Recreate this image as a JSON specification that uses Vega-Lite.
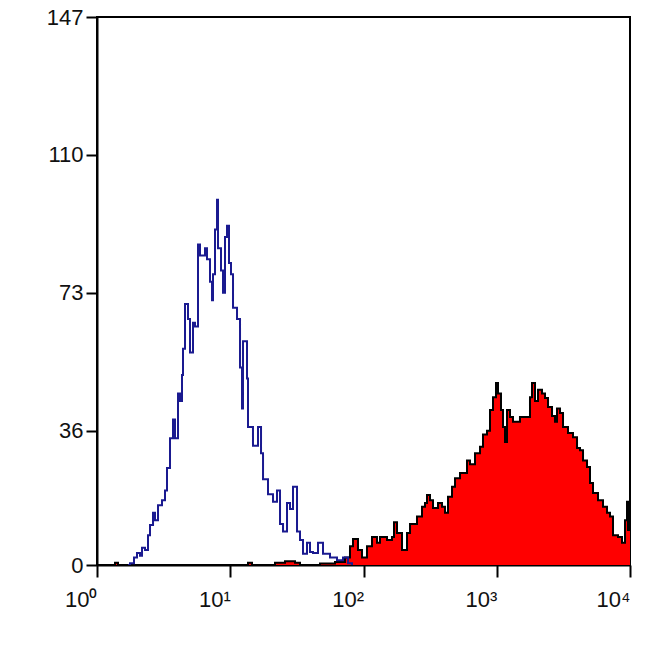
{
  "$schema": "https://vega.github.io/schema/vega-lite/v6.json",
  "width": 533,
  "height": 548,
  "autosize": "none",
  "padding": {"left": 97, "top": 17, "right": 20, "bottom": 85},
  "background": "white",
  "config": {
    "view": {"stroke": "black", "strokeWidth": 2},
    "font": "Liberation Sans",
    "axis": {
      "grid": false,
      "title": null,
      "domainColor": "black",
      "domainWidth": 2,
      "tickColor": "black",
      "tickWidth": 2,
      "labelColor": "#111111",
      "labelFont": "Liberation Sans",
      "labelFontSize": 22
    }
  },
  "datasets": {
    "control": [
      {"x": 1.709, "count": 0}, {"x": 1.769, "count": 0.5}, {"x": 1.895, "count": 2}, {"x": 1.996, "count": 3.2},
      {"x": 2.102, "count": 2.5}, {"x": 2.177, "count": 4.6}, {"x": 2.293, "count": 4}, {"x": 2.414, "count": 8},
      {"x": 2.499, "count": 10.7}, {"x": 2.633, "count": 14}, {"x": 2.725, "count": 12}, {"x": 2.87, "count": 16},
      {"x": 3.075, "count": 17.4}, {"x": 3.238, "count": 20}, {"x": 3.352, "count": 26}, {"x": 3.531, "count": 34},
      {"x": 3.719, "count": 39}, {"x": 3.849, "count": 34}, {"x": 4.055, "count": 46}, {"x": 4.197, "count": 44},
      {"x": 4.344, "count": 51}, {"x": 4.42, "count": 58}, {"x": 4.576, "count": 70}, {"x": 4.819, "count": 66},
      {"x": 4.988, "count": 57}, {"x": 5.253, "count": 65}, {"x": 5.438, "count": 64}, {"x": 5.728, "count": 86},
      {"x": 5.929, "count": 83}, {"x": 6.464, "count": 85}, {"x": 6.692, "count": 82}, {"x": 7.047, "count": 76},
      {"x": 7.295, "count": 71}, {"x": 7.422, "count": 78}, {"x": 7.685, "count": 90}, {"x": 7.955, "count": 98},
      {"x": 8.094, "count": 85}, {"x": 8.523, "count": 79}, {"x": 8.823, "count": 73}, {"x": 9.134, "count": 88},
      {"x": 9.455, "count": 91}, {"x": 9.786, "count": 81}, {"x": 10.13, "count": 78}, {"x": 10.49, "count": 69},
      {"x": 11.24, "count": 66}, {"x": 11.84, "count": 53}, {"x": 12.25, "count": 42}, {"x": 12.46, "count": 60},
      {"x": 13.36, "count": 50}, {"x": 13.59, "count": 37}, {"x": 14.81, "count": 32}, {"x": 16.16, "count": 37},
      {"x": 17.02, "count": 30}, {"x": 17.62, "count": 23}, {"x": 19.2, "count": 19}, {"x": 20.94, "count": 17},
      {"x": 22.43, "count": 20}, {"x": 23.63, "count": 11}, {"x": 24.89, "count": 9}, {"x": 26.67, "count": 16.6},
      {"x": 28.08, "count": 15}, {"x": 29.58, "count": 21}, {"x": 31.7, "count": 9}, {"x": 33.38, "count": 6.7},
      {"x": 35.16, "count": 3}, {"x": 37.67, "count": 6}, {"x": 39.67, "count": 3.5}, {"x": 41.78, "count": 3.2},
      {"x": 45.56, "count": 6}, {"x": 49.67, "count": 3}, {"x": 56.07, "count": 2}, {"x": 63.27, "count": 1.3},
      {"x": 70.2, "count": 2}, {"x": 76.49, "count": 0.5}, {"x": 81.96, "count": 0}
    ],
    "sample": [
      {"x": 1.2, "count": 0}, {"x": 1.365, "count": 0.6}, {"x": 1.438, "count": 0}, {"x": 13.59, "count": 0.6},
      {"x": 14.56, "count": 0}, {"x": 21.67, "count": 0.6}, {"x": 25.76, "count": 1}, {"x": 30.62, "count": 0.6},
      {"x": 33.38, "count": 0}, {"x": 47.16, "count": 0.4}, {"x": 61.12, "count": 0.8}, {"x": 72.64, "count": 2},
      {"x": 79.18, "count": 5}, {"x": 83.4, "count": 7}, {"x": 90.94, "count": 4}, {"x": 97.43, "count": 2},
      {"x": 106.2, "count": 5}, {"x": 115.8, "count": 7.5}, {"x": 126.3, "count": 6}, {"x": 133.0, "count": 7.5},
      {"x": 150.1, "count": 6.7}, {"x": 163.6, "count": 7.5}, {"x": 169.4, "count": 11.5}, {"x": 178.4, "count": 8.6},
      {"x": 194.5, "count": 4}, {"x": 212.1, "count": 8.6}, {"x": 223.4, "count": 11}, {"x": 252.0, "count": 13},
      {"x": 274.8, "count": 15.6}, {"x": 289.4, "count": 16.6}, {"x": 299.6, "count": 18.8}, {"x": 315.6, "count": 17.4},
      {"x": 332.4, "count": 15.3}, {"x": 362.4, "count": 16.6}, {"x": 388.3, "count": 15.6}, {"x": 409.0, "count": 14},
      {"x": 430.8, "count": 18.3}, {"x": 461.6, "count": 21}, {"x": 486.2, "count": 23.3}, {"x": 530.0, "count": 24.7},
      {"x": 567.9, "count": 24.7}, {"x": 598.1, "count": 28}, {"x": 630.0, "count": 27}, {"x": 686.8, "count": 30},
      {"x": 748.9, "count": 31.7}, {"x": 788.5, "count": 35}, {"x": 844.9, "count": 36}, {"x": 890.0, "count": 41.6},
      {"x": 937.4, "count": 45}, {"x": 987.2, "count": 48.8}, {"x": 1022, "count": 46}, {"x": 1076, "count": 41.6},
      {"x": 1114, "count": 37}, {"x": 1153, "count": 33}, {"x": 1194, "count": 41.6}, {"x": 1257, "count": 39.7},
      {"x": 1324, "count": 38.4}, {"x": 1494, "count": 39.7}, {"x": 1687, "count": 39.7}, {"x": 1776, "count": 45},
      {"x": 1839, "count": 48.8}, {"x": 1937, "count": 44}, {"x": 2040, "count": 47}, {"x": 2186, "count": 46},
      {"x": 2302, "count": 44.8}, {"x": 2425, "count": 42.4}, {"x": 2598, "count": 40}, {"x": 2736, "count": 38.4},
      {"x": 2833, "count": 42}, {"x": 2984, "count": 40.8}, {"x": 3143, "count": 37}, {"x": 3426, "count": 35.4},
      {"x": 3735, "count": 34.3}, {"x": 4003, "count": 31.4}, {"x": 4216, "count": 30.8}, {"x": 4441, "count": 28},
      {"x": 4757, "count": 26.3}, {"x": 5010, "count": 22}, {"x": 5277, "count": 19.3}, {"x": 5752, "count": 17.4},
      {"x": 6272, "count": 15.6}, {"x": 6721, "count": 14}, {"x": 7079, "count": 13}, {"x": 7456, "count": 8},
      {"x": 8127, "count": 7.5}, {"x": 8710, "count": 6}, {"x": 9174, "count": 12}, {"x": 9495, "count": 17},
      {"x": 9661, "count": 9.4}, {"x": 10000, "count": 9.4}
    ]
  },
  "encoding": {
    "x": {
      "field": "x",
      "type": "quantitative",
      "scale": {"type": "log", "domain": [1, 10000]},
      "axis": {
        "values": [1, 10, 100, 1000, 10000],
        "labelExpr": "datum.value == 1 ? '10⁰' : datum.value == 10 ? '10¹' : datum.value == 100 ? '10²' : datum.value == 1000 ? '10³' : '10⁴'",
        "tickSize": 12,
        "labelAlign": "right",
        "labelDx": 3,
        "labelPadding": 12,
        "labelFlush": false
      }
    },
    "y": {
      "field": "count",
      "type": "quantitative",
      "scale": {"domain": [0, 147], "nice": false},
      "axis": {
        "values": [0, 36, 73, 110, 147],
        "tickSize": 11,
        "labelPadding": 3,
        "labelFlush": false
      }
    }
  },
  "layer": [
    {
      "data": {"name": "sample"},
      "mark": {"type": "area", "interpolate": "step-after", "color": "#ff0000", "clip": true}
    },
    {
      "data": {"name": "sample"},
      "mark": {"type": "line", "interpolate": "step-after", "color": "black", "strokeWidth": 2, "clip": true}
    },
    {
      "data": {"name": "control"},
      "mark": {"type": "line", "interpolate": "step-after", "color": "#1a1a90", "strokeWidth": 2, "clip": true}
    }
  ]
}
